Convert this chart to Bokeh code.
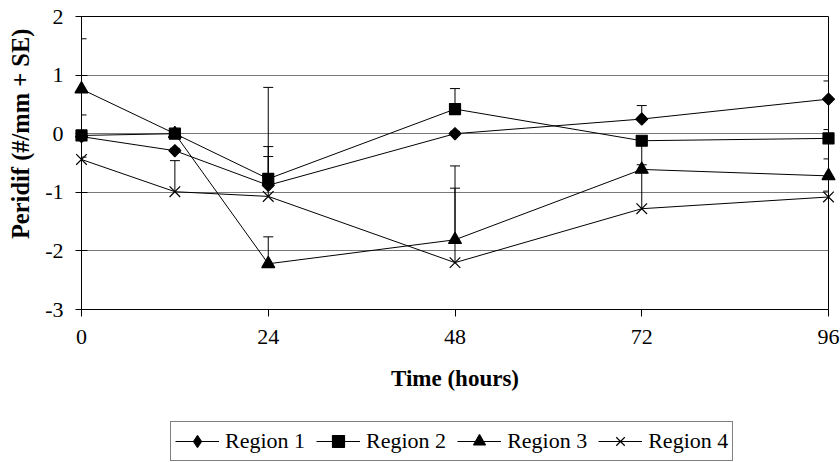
import math
from bokeh.plotting import figure
from bokeh.layouts import column
from bokeh.models import (Range1d, FixedTicker, Whisker, TeeHead, ColumnDataSource,
                          Legend, LegendItem, Title)
from bokeh.embed import file_html
from bokeh.resources import INLINE

# ---- data ----
hours = [0, 12, 24, 48, 72, 96]
region1 = [-0.05, -0.29, -0.88, 0.00, 0.25, 0.59]
region2 = [-0.03, 0.00, -0.77, 0.42, -0.12, -0.08]
region3 = [0.76, 0.00, -2.22, -1.81, -0.61, -0.72]
region4 = [-0.44, -0.99, -1.07, -2.20, -1.28, -1.08]
se1 = [0.04, 0.04, 0.49, 0.04, 0.23, 0.31]
se2 = [0.35, 0.04, 1.56, 0.35, 0.04, 0.15]
se3 = [0.86, 0.04, 0.46, 0.88, 0.46, 0.29]
se4 = [0.04, 0.53, 0.85, 1.65, 0.75, 0.10]
series_names = ["Region 1", "Region 2", "Region 3", "Region 4"]
x_ticks = [0, 24, 48, 72, 96]
y_ticks = [-3, -2, -1, 0, 1, 2]
y_tick_labels = ["-3", "-2", "-1", "0", "1", "2"]
x_title = "Time (hours)"
y_title = "Peridif (#/mm + SE)"

FONT = "Liberation Serif"

p = figure(width=840, height=410, output_backend="svg", toolbar_location=None,
           x_range=Range1d(0, 96), y_range=Range1d(-3, 2),
           min_border_left=80, min_border_right=12, min_border_top=16,
           min_border_bottom=101)
p.background_fill_color = "white"
p.border_fill_color = "white"
p.outline_line_color = "black"
p.outline_line_width = 1

p.xgrid.visible = False
p.ygrid.ticker = FixedTicker(ticks=y_ticks)
p.ygrid.grid_line_color = "#787878"
p.ygrid.grid_line_width = 1

p.xaxis.ticker = FixedTicker(ticks=x_ticks)
p.yaxis.ticker = FixedTicker(ticks=y_ticks)
p.yaxis.major_label_overrides = {t: s for t, s in zip(y_ticks, y_tick_labels)}
for ax in (p.xaxis, p.yaxis):
    ax.axis_line_color = "black"
    ax.major_tick_line_color = "black"
    ax.minor_tick_line_color = None
    ax.major_label_text_font = FONT
    ax.major_label_text_font_size = "22px"
    ax.major_label_text_color = "black"
    ax.axis_label_text_font = FONT
    ax.axis_label_text_font_style = "bold"
    ax.axis_label_text_color = "black"

p.xaxis.major_tick_in = 0
p.xaxis.major_tick_out = 7
p.xaxis.major_label_standoff = 13
p.xaxis.axis_label = x_title
p.xaxis.axis_label_text_font_size = "23px"
p.xaxis.axis_label_standoff = 19

p.yaxis.major_tick_in = 6
p.yaxis.major_tick_out = 6
p.yaxis.major_label_standoff = 12

p.add_layout(Title(text=y_title, align="right", vertical_align="top", offset=12,
                   standoff=13, text_font=FONT, text_font_style="bold",
                   text_font_size="24.5px", text_color="black"), "left")

series = [(region1, se1, "square", 8.5, math.pi / 4, "diamond"),
          (region2, se2, "square", 11, 0, "square"),
          (region3, se3, "triangle", 13, 0, "triangle"),
          (region4, se4, "x", 15, 0, "x")]

# error bars (upper only)
for ys, ses, _, _, _, _ in series:
    src = ColumnDataSource(dict(x=hours, lo=ys, hi=[a + b for a, b in zip(ys, ses)]))
    w = Whisker(source=src, base="x", lower="lo", upper="hi", dimension="height",
                line_color="black", line_width=1, level="annotation",
                upper_head=TeeHead(size=10, line_color="black", line_width=1),
                lower_head=None)
    p.add_layout(w)

for ys, ses, mk, sz, ang, _ in series:
    p.line(hours, ys, line_color="black", line_width=1)
    p.scatter(hours, ys, marker=mk, size=sz, angle=ang, fill_color="black",
              line_color="black", line_width=1.2, level="overlay")

# ---- legend strip (separate figure below the chart) ----
lg = figure(width=840, height=52, output_backend="svg", toolbar_location=None,
            x_axis_location=None, y_axis_location=None,
            min_border_left=0, min_border_right=0, min_border_top=0,
            min_border_bottom=0, x_range=Range1d(0, 1), y_range=Range1d(0, 1))
lg.outline_line_color = None
lg.xgrid.visible = False
lg.ygrid.visible = False
lg.border_fill_color = "white"
items = []
for (ys, ses, mk, sz, ang, lmk), name in zip(series, series_names):
    # one point outside the visible range so the renderer has data for its legend glyph
    ln = lg.line([5, 6], [5, 6], line_color="black", line_width=1)
    sc = lg.scatter([5], [5], marker=lmk, size=sz, fill_color="black",
                    line_color="black", line_width=1.2)
    items.append(LegendItem(label=name, renderers=[ln, sc]))

legend = Legend(items=items, orientation="horizontal", location=(89, 1),
                label_text_font=FONT, label_text_font_size="22px",
                label_text_color="black", border_line_color="black",
                border_line_width=1, glyph_width=44, glyph_height=30,
                label_standoff=6, spacing=11, padding=4, margin=0,
                background_fill_alpha=1)
lg.add_layout(legend, "center")

layout = column(p, lg, spacing=0)
open("out.html", "w").write(file_html(layout, INLINE))
